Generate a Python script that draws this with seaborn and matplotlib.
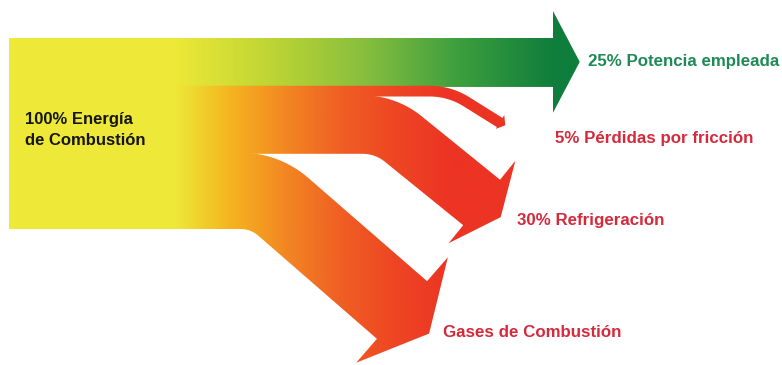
import numpy as np
import matplotlib
matplotlib.use("Agg")
import matplotlib.pyplot as plt
from matplotlib.patches import Polygon, Rectangle
import seaborn as sns

# Energy balance of an internal-combustion engine (percent of fuel energy)
source_label = "100% Energía\nde Combustión"
flow_names = ["Potencia empleada", "Pérdidas por fricción", "Refrigeración", "Gases de Combustión"]
flow_shares = [25, 5, 30, 40]
flow_labels = ["25% Potencia empleada", "5% Pérdidas por fricción", "30% Refrigeración", "Gases de Combustión"]

sns.set_theme(style="white")
plt.rcParams["font.family"] = ["Liberation Sans", "DejaVu Sans"]

W, H = 782, 365
fig = plt.figure(figsize=(W / 100, H / 100), dpi=100)
ax = fig.add_axes([0, 0, 1, 1])
ax.set_xlim(0, W)
ax.set_ylim(H, 0)
ax.set_axis_off()

# Drawing scale: pixels of band height per percent
top, left, block_right = 38.0, 9.0, 176.0
px_per_pct = 1.91

yellow = (238 / 255, 232 / 255, 56 / 255)
warm_cmap = sns.blend_palette(
    ["#EEE838", "#F5B420", "#F28723", "#F05F23", "#EE4623", "#EC3423"], as_cmap=True)
green_cmap = sns.blend_palette(
    ["#EEE838", "#BED534", "#87BE3E", "#3C9E3E", "#0F7D3C"], as_cmap=True)

# Routing of each stream: end of the band (base of its arrowhead), heading of
# the diagonal run, radius of the bend and the arrowhead proportions
layout = [
    dict(end=(553, None), angle=0, radius=0, head_w=2.13, head_l=0.56,
         cmap=green_cmap, grad=(175, 555), color="#1F8A55", text_xy=(588, 66)),
    dict(end=(500, 122), angle=32, radius=70, head_w=1.7, head_l=0.65,
         cmap=warm_cmap, grad=(175, 450), color="#D42A3C", text_xy=(555, 143)),
    dict(end=(482, 202), angle=39, radius=65, head_w=1.85, head_l=0.42,
         cmap=warm_cmap, grad=(175, 450), color="#D42A3C", text_xy=(517, 225)),
    dict(end=(402, 310), angle=41, radius=65, head_w=1.83, head_l=0.47,
         cmap=warm_cmap, grad=(175, 450), color="#D42A3C", text_xy=(443, 337)),
]


def centerline(y_c, spec, x_start):
    """Horizontal run, rounded bend, then a straight diagonal to the end point."""
    ex, ey = spec["end"]
    if ey is None or spec["angle"] == 0:
        pts = np.array([[x_start, y_c], [ex, y_c]])
        tans = np.array([[1.0, 0.0], [1.0, 0.0]])
        return pts, tans
    a = np.radians(spec["angle"])
    d2 = np.array([np.cos(a), np.sin(a)])
    corner = np.array([ex - (ey - y_c) / np.tan(a), y_c])
    R = spec["radius"]
    L = R * np.tan(a / 2)
    t1 = corner - np.array([L, 0.0])
    ctr = t1 + np.array([0.0, R])
    phis = np.linspace(0, a, 60)
    arc = ctr + R * np.column_stack([np.sin(phis), -np.cos(phis)])
    arc_t = np.column_stack([np.cos(phis), np.sin(phis)])
    pts = np.vstack([[x_start, y_c], arc, [ex, ey]])
    tans = np.vstack([[1.0, 0.0], arc_t, d2])
    return pts, tans


def ribbon(y_c, width, spec, x_start=170.0, overlap=1.2):
    """Outline of a constant-thickness band ending in an arrowhead.

    The lower edge is pushed down by `overlap` so the next band, drawn on
    top, hides any anti-aliasing seam between neighbours.
    """
    pts, tans = centerline(y_c, spec, x_start)
    nrm = np.column_stack([-tans[:, 1], tans[:, 0]])
    upper = pts - nrm * width / 2
    lower = pts + nrm * (width / 2 + overlap)
    e, t, n = pts[-1], tans[-1], nrm[-1]
    hw, hl = spec["head_w"] * width / 2, spec["head_l"] * width
    head = np.array([e - n * hw, e + t * hl, e + n * hw])
    return np.vstack([upper, head, lower[::-1]])


def gradient_fill(outline, cmap, x0, x1, zorder):
    patch = Polygon(outline, closed=True, facecolor="none", edgecolor="none")
    ax.add_patch(patch)
    xs = np.linspace(0, W, 800)
    tvals = np.clip((xs - x0) / (x1 - x0), 0, 1)
    img = cmap(tvals)[np.newaxis, :, :3]
    im = ax.imshow(img, extent=(0, W, H, 0), aspect="auto",
                   interpolation="bilinear", zorder=zorder)
    im.set_clip_path(patch)


# Trunk of the diagram: the full energy input
total = sum(flow_shares)
ax.add_patch(Rectangle((left, top), block_right - left, total * px_per_pct,
                       facecolor=yellow, edgecolor="none", zorder=10))

# Streams, stacked from the top of the trunk
offset = 0.0
for i, (share, spec) in enumerate(zip(flow_shares, layout)):
    width = share * px_per_pct
    y_c = top + (offset + share / 2) * px_per_pct
    offset += share
    last = i == len(flow_shares) - 1
    outline = ribbon(y_c, width, spec, overlap=0.0 if last else 1.2)
    gradient_fill(outline, spec["cmap"], *spec["grad"], zorder=2 + i)

# Labels
for k, line in enumerate(source_label.split("\n")):
    ax.text(25, 124 + 21 * k, line, fontsize=12, fontweight="bold",
            color="#151515", ha="left", va="baseline", zorder=12)
for text, spec in zip(flow_labels, layout):
    tx, ty = spec["text_xy"]
    ax.text(tx, ty, text, fontsize=12.2, fontweight="bold", color=spec["color"],
            ha="left", va="baseline", zorder=12)

fig.savefig("out.png", dpi=100, facecolor="white")
